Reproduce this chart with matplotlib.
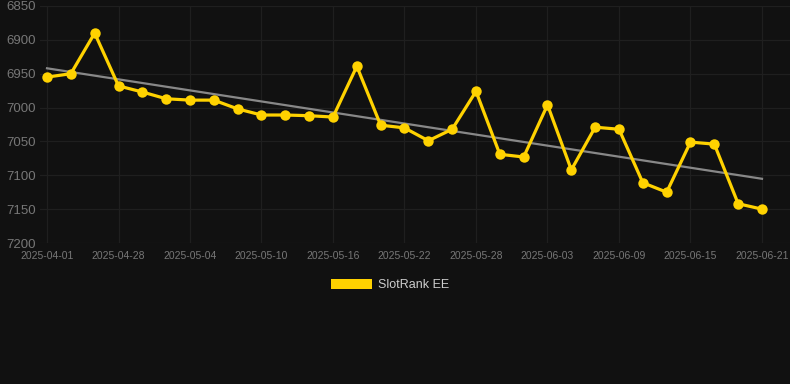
import matplotlib
matplotlib.use('Agg')
import numpy as np
import matplotlib.pyplot as plt
from matplotlib.patches import Patch

# Rank values per date (lower number = better rank, axis inverted)
dates = ['2025-04-01', '2025-04-24', '2025-04-26', '2025-04-28', '2025-04-30',
         '2025-05-02', '2025-05-04', '2025-05-06', '2025-05-08', '2025-05-10',
         '2025-05-12', '2025-05-14', '2025-05-16', '2025-05-18', '2025-05-20',
         '2025-05-22', '2025-05-24', '2025-05-26', '2025-05-28', '2025-05-30',
         '2025-06-01', '2025-06-03', '2025-06-05', '2025-06-07', '2025-06-09',
         '2025-06-11', '2025-06-13', '2025-06-15', '2025-06-17', '2025-06-19',
         '2025-06-21']
rank = [6955, 6950, 6890, 6968, 6977, 6987, 6989, 6989, 7002, 7011,
        7011, 7012, 7014, 6939, 7026, 7030, 7049, 7032, 6976, 7069,
        7073, 6996, 7092, 7029, 7032, 7111, 7125, 7051, 7054, 7142,
        7150]
yticks = [6850, 6900, 6950, 7000, 7050, 7100, 7150, 7200]
label_every = 3

BG = '#111111'
YELLOW = '#FFD200'
GRID = '#1f1f1f'
TICK = '#777777'

plt.rcParams['font.family'] = ['Liberation Sans', 'DejaVu Sans']

fig = plt.figure(figsize=(7.9, 3.84), dpi=100, facecolor=BG)
ax = fig.add_axes([40 / 790, 1 - 243 / 384, 750 / 790, 237 / 384], facecolor=BG)

x = np.arange(len(dates))
y = np.array(rank, dtype=float)

# linear trend
k, b = np.polyfit(x, y, 1)
ax.plot(x, k * x + b, color='#888888', linewidth=1.6, zorder=2)

ax.plot(x, y, color=YELLOW, linewidth=2.3, marker='o', markersize=7.5,
        markeredgewidth=0, zorder=3)

ax.set_ylim(7200, 6850)
ax.set_yticks(yticks)
ax.set_xlim(-7 / 23.83, 30 + 28 / 23.83)
ax.set_xticks(x[::label_every])
ax.set_xticklabels(dates[::label_every])

ax.grid(True, color=GRID, linewidth=0.9)
for s in ax.spines.values():
    s.set_visible(False)
ax.tick_params(axis='y', colors=TICK, labelsize=9.5, length=0, pad=3)
ax.tick_params(axis='x', colors=TICK, labelsize=7.5, length=0, pad=6)

leg = fig.legend(handles=[Patch(facecolor=YELLOW, label='SlotRank EE')],
                 loc='center', bbox_to_anchor=(390 / 790, 1 - 285 / 384),
                 frameon=False, handlelength=3.3, handleheight=0.9,
                 fontsize=9, labelcolor='#cccccc', handletextpad=0.5)

fig.savefig('out.png', dpi=100, facecolor=BG)
